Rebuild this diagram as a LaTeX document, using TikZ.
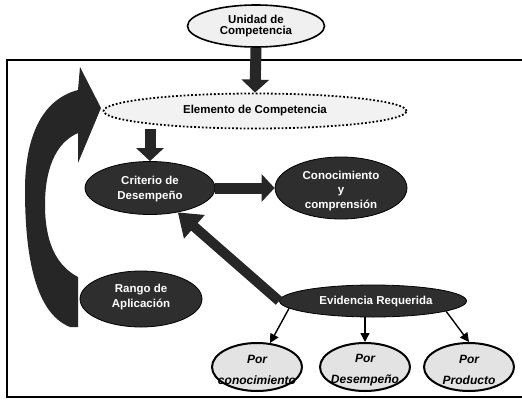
\documentclass[tikz,border=0pt]{standalone}
\usepackage{fontspec}
\setmainfont{Liberation Sans}
\usetikzlibrary{arrows.meta,shapes.geometric}

\begin{document}
\begin{tikzpicture}[x=1pt,y=-1pt,
  darkell/.style={ellipse, draw=black, line width=0.8pt, fill=black!82, inner sep=0pt},
  paleell/.style={ellipse, draw=black, line width=1.6pt, fill=gray!12, inner sep=0pt},
  dotell/.style={ellipse, draw=black, line width=1.8pt, dotted, fill=gray!10, inner sep=0pt},
  botell/.style={ellipse, draw=black, line width=2pt, fill=gray!22, inner sep=0pt},
  whitetxt/.style={font=\bfseries\fontsize{11.5}{15}\selectfont, align=center, text=white},
  blacktxt/.style={font=\bfseries\fontsize{11.5}{14}\selectfont, align=center, text=black},
  bottxt/.style={font=\bfseries\itshape\fontsize{12}{21}\selectfont, align=center, text=black},
  fatarrow/.style={draw=black!85, line width=11pt, -{Triangle[width=27pt,length=13pt]}},
  diagarrow/.style={draw=black!85, line width=10pt, -{Triangle[width=30pt,length=22pt]}},
  thinarrow/.style={draw=black, line width=1.4pt, -{Triangle[width=9pt,length=9pt]}}
]
\useasboundingbox (0,0) rectangle (522,402);
\fill[white] (0,0) rectangle (522,402);

% frame
\draw[line width=1.3pt] (522,60) -- (7,60) -- (7,397) -- (522,397);

% nodes
\node[paleell, minimum width=137pt, minimum height=42pt] (unidad) at (256,26) {};
\node[blacktxt] (unidadt) at (256,26) {Unidad de\\[-3pt]Competencia};

\node[dotell, minimum width=303pt, minimum height=35pt] (elem) at (255,111) {};
\node[blacktxt] (elemt) at (255,111) {Elemento de Competencia};

\node[darkell, minimum width=130pt, minimum height=53pt] (crit) at (150,188) {};
\node[whitetxt] (critt) at (150,189) {Criterio de\\Desempeño};

\node[darkell, minimum width=132pt, minimum height=62pt] (conoc) at (341,188) {};
\node[whitetxt, font=\bfseries\fontsize{11.5}{14.5}\selectfont] (conoct) at (341,191) {Conocimiento\\y\\comprensión};

\node[darkell, minimum width=122pt, minimum height=56pt] (rango) at (141,299) {};
\node[whitetxt] (rangot) at (141,297) {Rango de\\Aplicación};

\node[darkell, minimum width=187pt, minimum height=32pt] (evid) at (373,301) {};
\node[whitetxt] (evidt) at (376,302) {Evidencia Requerida};

\node[botell, minimum width=90pt, minimum height=48pt] (pc) at (257,367) {};
\node[bottxt] (pct) at (257,370) {Por\\conocimiento};
\node[botell, minimum width=90pt, minimum height=48pt] (pd) at (365,367) {};
\node[bottxt] (pdt) at (365,370) {Por\\Desempeño};
\node[botell, minimum width=90pt, minimum height=48pt] (pp) at (469,367) {};
\node[bottxt] (ppt) at (469,370) {Por\\Producto};

% connectors
\draw[fatarrow] (unidad.south) -- (elem.north);
\draw[fatarrow] (elem.south -| crit.north) -- (crit.north);
\draw[fatarrow] (crit) -- (conoc);
\draw[diagarrow] (evid.west) -- (crit);
\draw[thinarrow] (evid.185) -- (pc);
\draw[thinarrow] (evid.south -| pd.north) -- (pd.north);
\draw[thinarrow] (evid.352) -- (pp.north);

% big curved arrow from Rango de Aplicación to Elemento de Competencia
\fill[black!85] (78,327) -- (78,277)
  .. controls (55,265) and (45,240) .. (45,205)
  .. controls (45,170) and (55,143) .. (78,133)
  -- (78,163) -- (101,108) -- (80,67) -- (78,90)
  .. controls (40,100) and (25,140) .. (25,190)
  .. controls (25,270) and (40,315) .. (70,327) -- cycle;
\end{tikzpicture}
\end{document}
